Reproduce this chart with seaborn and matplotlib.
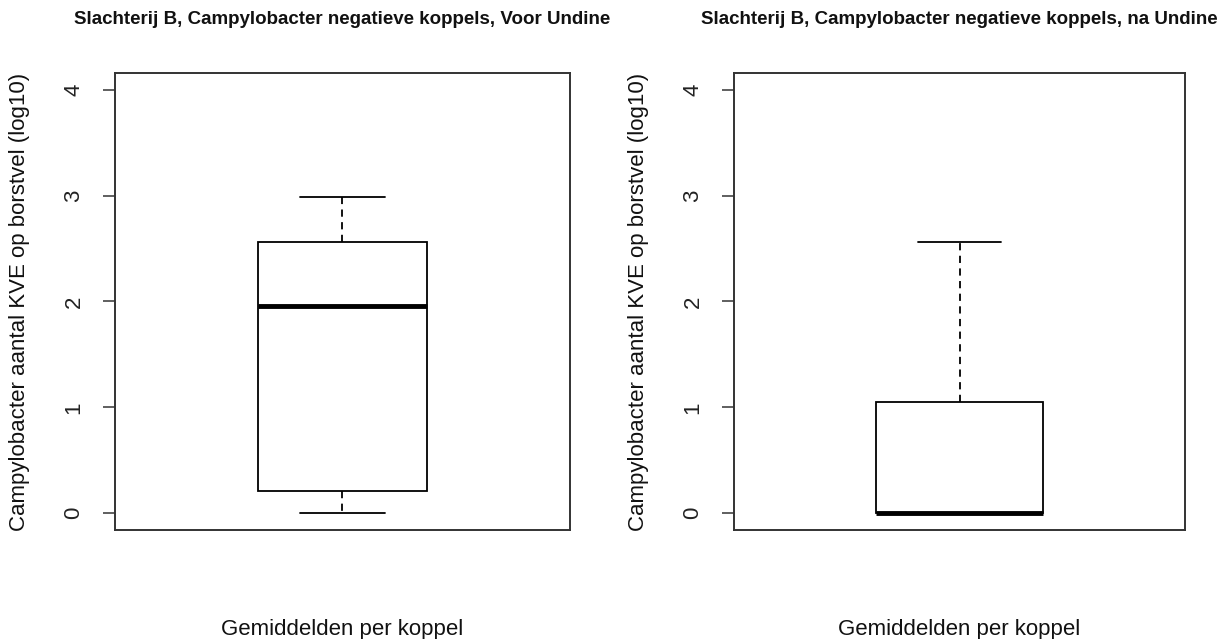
import matplotlib
matplotlib.use("Agg")
import matplotlib.pyplot as plt
import seaborn as sns
import pandas as pd

# Data (log10 KVE per koppel), chosen to reproduce the box statistics
voor_values = [0.0, 0.21, 1.96, 2.56, 2.99]
na_values = [0.0, 0.0, 0.0, 1.05, 2.56]

titles = ["Slachterij B, Campylobacter negatieve koppels, Voor Undine",
          "Slachterij B, Campylobacter negatieve koppels, na Undine"]
ylabel = "Campylobacter aantal KVE op borstvel (log10)"
xlabel = "Gemiddelden per koppel"
yticks = [0, 1, 2, 3, 4]

sns.set_theme(style="white")
plt.rcParams['font.family'] = ['Liberation Sans', 'DejaVu Sans']

fig = plt.figure(figsize=(12.31, 6.39), dpi=100)
positions = [[0.0934, 0.1706, 0.3696, 0.7152], [0.5963, 0.1706, 0.3663, 0.7152]]

for pos, vals, title in zip(positions, [voor_values, na_values], titles):
    ax = fig.add_axes(pos)
    df = pd.DataFrame({"waarde": vals})
    sns.boxplot(data=df, y="waarde", ax=ax, width=0.4, color="white",
                linecolor="black", linewidth=1.3, fliersize=0,
                whiskerprops={"linestyle": (0, (4, 3))},
                medianprops={"linewidth": 3.5, "color": "black"})
    ax.set_xlim(-0.54, 0.54)
    ax.set_ylim(-0.16, 4.16)
    ax.set_xticks([])
    ax.set_yticks(yticks)
    ax.set_yticklabels([str(t) for t in yticks], rotation=90, va="center",
                       fontsize=16, color="#222222")
    ax.tick_params(axis="y", left=True, length=9, width=1.2, color="#444444", pad=13)
    for sp in ax.spines.values():
        sp.set_visible(True)
        sp.set_color("#333333")
        sp.set_linewidth(1.4)
    ax.set_ylabel(ylabel, fontsize=16, labelpad=24, color="#111111")
    ax.set_xlabel(xlabel, fontsize=16, labelpad=64, color="#111111")
    ax.set_title(title, fontsize=13.5, fontweight="bold", pad=35, color="#111111")

fig.savefig("out.png", dpi=100, facecolor="white")
